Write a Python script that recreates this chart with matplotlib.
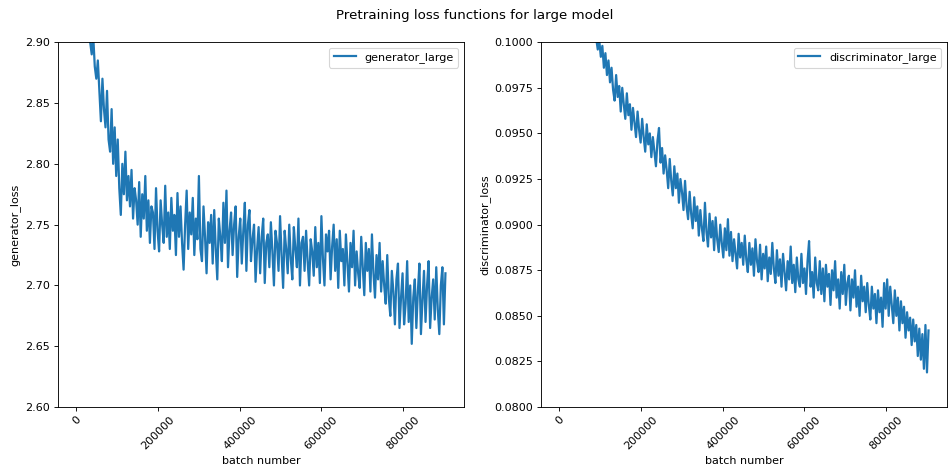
import numpy as np
import matplotlib
matplotlib.use("Agg")
import matplotlib.pyplot as plt

# loss logged every 3750 batches
batch_step = 3750

generator_large = [
    3.06, 3.04, 3.01, 2.99, 2.97, 2.96, 2.94, 2.93, 2.91, 2.90,
    2.89, 2.905, 2.88, 2.87, 2.885, 2.86, 2.835, 2.87, 2.845, 2.83,
    2.86, 2.82, 2.81, 2.845, 2.80, 2.83, 2.79, 2.82, 2.78, 2.758,
    2.80, 2.775, 2.81, 2.77, 2.79, 2.765, 2.795, 2.755, 2.78, 2.77,
    2.75, 2.785, 2.74, 2.775, 2.755, 2.79, 2.745, 2.77, 2.735, 2.765,
    2.76, 2.73, 2.78, 2.745, 2.728, 2.77, 2.75, 2.735, 2.782, 2.74,
    2.76, 2.73, 2.772, 2.745, 2.758, 2.725, 2.776, 2.74, 2.765, 2.735,
    2.713, 2.75, 2.778, 2.73, 2.76, 2.742, 2.772, 2.725, 2.755, 2.738,
    2.79, 2.73, 2.72, 2.765, 2.74, 2.71, 2.752, 2.735, 2.758, 2.718,
    2.762, 2.73, 2.705, 2.755, 2.74, 2.72, 2.768, 2.735, 2.778, 2.715,
    2.745, 2.76, 2.725, 2.75, 2.765, 2.707, 2.74, 2.755, 2.718, 2.745,
    2.768, 2.712, 2.75, 2.762, 2.72, 2.738, 2.75, 2.703, 2.73, 2.748,
    2.71, 2.74, 2.755, 2.702, 2.735, 2.742, 2.715, 2.752, 2.728, 2.70,
    2.745, 2.735, 2.712, 2.757, 2.725, 2.698, 2.745, 2.73, 2.71, 2.75,
    2.722, 2.705, 2.748, 2.73, 2.715, 2.755, 2.70, 2.735, 2.74, 2.712,
    2.745, 2.72, 2.70, 2.738, 2.728, 2.708, 2.748, 2.715, 2.735, 2.702,
    2.757, 2.722, 2.70, 2.742, 2.728, 2.745, 2.705, 2.732, 2.75, 2.712,
    2.738, 2.698, 2.745, 2.72, 2.73, 2.70, 2.742, 2.718, 2.695, 2.735,
    2.715, 2.745, 2.70, 2.728, 2.71, 2.698, 2.74, 2.715, 2.692, 2.735,
    2.712, 2.73, 2.695, 2.742, 2.71, 2.69, 2.725, 2.705, 2.735, 2.695,
    2.72, 2.70, 2.685, 2.725, 2.69, 2.675, 2.712, 2.695, 2.668, 2.705,
    2.718, 2.665, 2.69, 2.71, 2.668, 2.685, 2.72, 2.67, 2.70, 2.652,
    2.69, 2.705, 2.665, 2.695, 2.718, 2.66, 2.688, 2.712, 2.67, 2.70,
    2.72, 2.665, 2.69, 2.705, 2.672, 2.715, 2.68, 2.66, 2.70, 2.715,
    2.668, 2.71,
]

discriminator_large = [
    0.1125, 0.1120, 0.1115, 0.1110, 0.1105, 0.1100, 0.1095, 0.1090, 0.1085, 0.1080,
    0.1075, 0.1070, 0.1065, 0.1060, 0.1055, 0.1050, 0.1045, 0.1040, 0.1035, 0.1030,
    0.1025, 0.1020, 0.1015, 0.1008, 0.1002, 0.0996, 0.1001, 0.0992, 0.0998, 0.0986,
    0.0994, 0.0982, 0.0990, 0.0978, 0.0986, 0.0974, 0.0968, 0.0982, 0.0970, 0.0976,
    0.0962, 0.0975, 0.0966, 0.0958, 0.0972, 0.0960, 0.0966, 0.0952, 0.0964, 0.0956,
    0.0948, 0.0962, 0.0952, 0.0945, 0.0958, 0.0948, 0.0940, 0.0955, 0.0944, 0.0950,
    0.0937, 0.0948, 0.0940, 0.0932, 0.0946, 0.0953, 0.0934, 0.0942, 0.0928, 0.0938,
    0.0930, 0.0920, 0.0936, 0.0924, 0.0916, 0.0932, 0.0920, 0.0928, 0.0912, 0.0925,
    0.0918, 0.0908, 0.0924, 0.0910, 0.0903, 0.0918, 0.0906, 0.0898, 0.0915, 0.0902,
    0.0910, 0.0894, 0.0908, 0.0898, 0.0891, 0.0912, 0.0896, 0.0888, 0.0906, 0.0893,
    0.0902, 0.0886, 0.0904, 0.0892, 0.0885, 0.0900, 0.0890, 0.0882, 0.0898, 0.0886,
    0.0903, 0.0883, 0.0896, 0.0880, 0.0892, 0.0884, 0.0876, 0.0895, 0.0882, 0.0890,
    0.0878, 0.0894, 0.0881, 0.0874, 0.0890, 0.0878, 0.0887, 0.0872, 0.0892, 0.0880,
    0.0874, 0.0889, 0.0870, 0.0884, 0.0876, 0.0888, 0.0869, 0.0882, 0.0873, 0.0890,
    0.0876, 0.0868, 0.0886, 0.0872, 0.0881, 0.0866, 0.0884, 0.0874, 0.0864, 0.0880,
    0.0870, 0.0888, 0.0868, 0.0878, 0.0863, 0.0882, 0.0870, 0.0866, 0.0884, 0.0868,
    0.0876, 0.0862, 0.0880, 0.0891, 0.0866, 0.0874, 0.0860, 0.0882, 0.0868, 0.0864,
    0.0880, 0.0862, 0.0876, 0.0858, 0.0878, 0.0866, 0.0873, 0.0856, 0.0875, 0.0864,
    0.0880, 0.0860, 0.0870, 0.0854, 0.0874, 0.0862, 0.0878, 0.0856, 0.0868, 0.0872,
    0.0853, 0.0870, 0.0860, 0.0875, 0.0855, 0.0866, 0.0850, 0.0872, 0.0858, 0.0866,
    0.0852, 0.0868, 0.0856, 0.0848, 0.0866, 0.0854, 0.0862, 0.0846, 0.0864, 0.0852,
    0.0860, 0.0844, 0.0868, 0.0854, 0.0870, 0.0850, 0.0866, 0.0856, 0.0846, 0.0864,
    0.0850, 0.0860, 0.0842, 0.0858, 0.0846, 0.0855, 0.0838, 0.0852, 0.0842, 0.0849,
    0.0834, 0.0848, 0.0836, 0.0845, 0.0828, 0.0843, 0.0826, 0.0840, 0.0821, 0.0845,
    0.0819, 0.0842,
]

gen_batches = np.arange(len(generator_large)) * batch_step
disc_batches = np.arange(len(discriminator_large)) * batch_step

fig, (ax1, ax2) = plt.subplots(1, 2, figsize=(11.875, 5.8625), dpi=80)
fig.subplots_adjust(left=0.061, right=0.9968, bottom=0.132, top=0.910, wspace=0.19)
fig.suptitle("Pretraining loss functions for large model")

ax1.plot(gen_batches, generator_large, lw=2.0, label="generator_large")
ax1.set_ylim(2.6, 2.9)
ax1.set_ylabel("generator_loss")

ax2.plot(disc_batches, discriminator_large, lw=2.0, label="discriminator_large")
ax2.set_ylim(0.08, 0.1)
ax2.set_ylabel("discriminator_loss")

for ax in (ax1, ax2):
    ax.set_xlabel("batch number")
    ax.tick_params(axis="x", labelrotation=45)
    ax.legend(loc="upper right")

fig.savefig("out.png", dpi=80)
